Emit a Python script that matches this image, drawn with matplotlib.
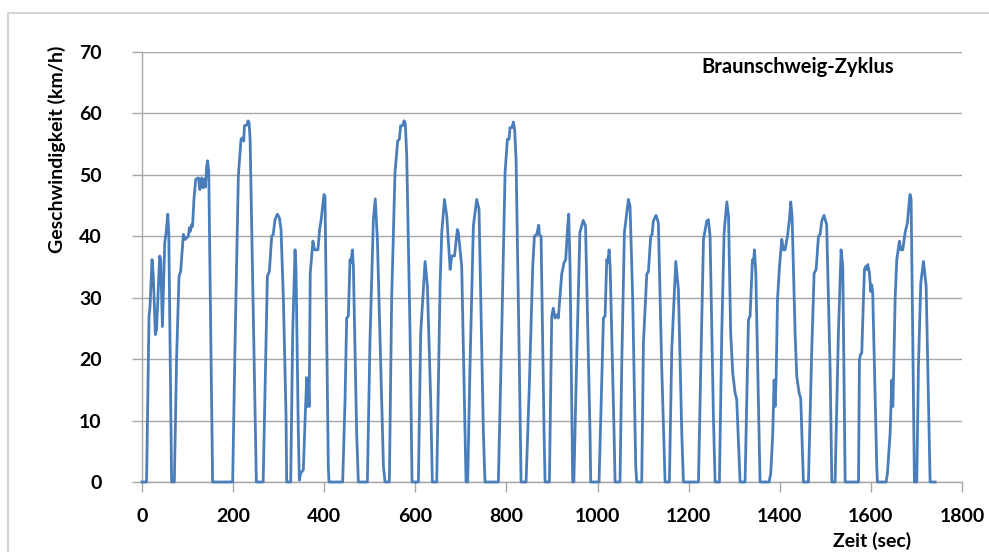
import matplotlib
matplotlib.use("Agg")
import matplotlib.pyplot as plt
from matplotlib.patches import Rectangle

# ---- data ----
time_s = [
    0, 10, 15.4, 17.6, 22, 24.9, 29.3, 32, 38.8, 41, 44.8, 49.9, 52.9, 56.6, 58.8, 65,
    71, 76, 81.3, 84.9, 90.8, 94.5, 101.7, 104, 106, 109, 111, 114, 118, 124, 127, 129, 131, 134, 136, 139, 142, 144, 146.5, 155,
    199, 204, 211.5, 217.4, 220.4, 223.3, 224.8, 229.9, 232.8, 235, 237.3, 251,
    266, 271.5, 275.2, 279.6, 284.7, 288, 292, 297.2, 301.6, 305.2, 310.4, 316.2, 317.6,
    326.4, 330.8, 335.9, 338, 343.2, 345.4, 348.3, 354.2, 357.9, 361.5, 363, 365, 367, 369.3, 375.2, 378.8, 386.2, 389.8, 393, 399.5, 401.7, 409, 410.5,
    440.5, 445.7, 449.3, 453, 456.6, 458.5, 461.8, 464, 471.2, 474.9,
    494.7, 500.5, 507.9, 512, 516.7, 526.2, 530, 533.5,
    543, 548, 555.4, 561.2, 564.9, 567.8, 572, 575.2, 578, 581.1, 588.4, 592.8,
    606.7, 611.8, 621.4, 626.5, 633.7, 637.3,
    646.9, 654.4, 658, 663.9, 669, 676.4, 680, 686, 692.2, 694.5, 701.8, 709.2, 711.3,
    714.9, 720, 727.4, 734.7, 739.8, 749.4, 752.9,
    782.3, 789.6, 797, 802.1, 805.7, 807.9, 812.3, 815.2, 818, 821.1, 828.4, 832.1,
    843.1, 850.4, 857.7, 861.4, 866.5, 870.9, 872.3, 876, 882.6, 884.8,
    894.3, 899.4, 902.9, 906.6, 910.3, 913.9, 917.6, 921.2, 926.4, 930.1, 934.5, 936.7, 939.6, 945.4,
    948, 953.8, 961.2, 968.5, 973.6, 983.5, 985,
    1003.3, 1009.2, 1012.9, 1016.5, 1020.2, 1022.4, 1025.4, 1027.6, 1036.3, 1038.4,
    1049.3, 1053, 1058.9, 1067.7, 1071.3, 1077.2, 1083.8, 1086,
    1097, 1100.7, 1108, 1111.7, 1116.7, 1119.6, 1122.5, 1128.4, 1133.5, 1140.8, 1148.2,
    1157.7, 1162.9, 1171.7, 1177.5, 1184.9, 1188.5,
    1221.5, 1226.6, 1232.5, 1239.8, 1243.3, 1247, 1254.3, 1258,
    1267.5, 1272.7, 1277.8, 1283.8, 1287.5, 1292.2, 1296.8, 1301.9, 1305.5, 1312.9,
    1323.8, 1331.2, 1334.8, 1340, 1342.2, 1344.4, 1347.4, 1356.7,
    1376.5, 1380.2, 1384.6, 1387.5, 1389.7, 1391.9, 1395, 1399.4, 1404.4, 1408, 1411.7, 1416.8, 1421.2, 1424.1, 1427, 1433.6, 1437.3, 1442.4, 1446, 1451.9,
    1462.9, 1470.2, 1475.4, 1479.8, 1484.9, 1488.5, 1492.2, 1497, 1502.9, 1510.4, 1514.2,
    1521.4, 1528.7, 1534.6, 1538.3, 1543.5,
    1572.8, 1574.9, 1577, 1580, 1583.6, 1585.9, 1588.8, 1591, 1593.2, 1596.8, 1599.6, 1601.8, 1604, 1612.9, 1614.3,
    1633.4, 1636.3, 1642.2, 1645.9, 1648.1, 1649.6, 1653.2, 1656.8, 1662.6, 1665.6, 1670, 1675.1, 1680.2, 1684.6, 1686, 1688.3, 1695.6,
    1700.7, 1704.4, 1709.5, 1715.4, 1721.3, 1730, 1741,
]
speed_kmh = [
    0, 0, 27, 28.6, 36.2, 33.5, 24, 24.8, 36.8, 36.2, 25.3, 38.9, 40.6, 43.6, 40.6, 0,
    0, 20.4, 33.5, 34.3, 40.3, 39.5, 40, 41.4, 40.8, 41.9, 41.6, 46, 49.3, 49.5, 47.6, 49, 49.5, 47.9, 49.3, 48, 51.4, 52.3, 50.6, 0,
    0, 21.5, 49.8, 55.8, 56, 55.5, 58, 58.1, 58.8, 58.5, 55.8, 0,
    0, 20.4, 33.5, 34.3, 40, 40.3, 42.7, 43.6, 43, 41.1, 29.7, 10.7, 0,
    0, 24.3, 37.8, 35.1, 7.9, 0.3, 1.4, 2, 10, 17, 12.3, 16.6, 12.3, 34, 39.2, 37.8, 37.8, 41.1, 42.5, 46.8, 46.5, 2.5, 0,
    0, 13.4, 26.7, 27, 36.2, 35.7, 37.8, 35.1, 7.9, 0,
    0, 23.2, 42.7, 46.1, 39.5, 13.4, 2.5, 0,
    0, 29.7, 50.4, 55.5, 55.8, 58, 58, 58.8, 58.3, 53.1, 24.3, 0,
    0, 24.3, 35.9, 31.9, 13.4, 0,
    0, 32.4, 40.6, 46, 43.3, 34.6, 36.8, 36.8, 41.1, 40.6, 35.1, 7.9, 0,
    0, 18.8, 41.7, 46, 44.4, 7.9, 0,
    0, 24.3, 50.4, 55.8, 55.8, 57.7, 57.7, 58.6, 57.4, 52.5, 18.8, 0,
    0, 16.1, 35.1, 40, 40.3, 41.8, 40.3, 40, 7.9, 0,
    0, 27, 28.3, 26.7, 27.2, 26.7, 30.2, 33.8, 35.7, 36.2, 41.7, 43.6, 35.1, 0,
    0, 18.8, 40.6, 42.6, 41.7, 7.9, 0,
    0, 16.1, 26.7, 27, 36.2, 35.7, 37.8, 35.1, 7.9, 0,
    0, 18.8, 40.6, 46, 44.9, 29.7, 2.5, 0,
    0, 22.6, 33.8, 34.3, 40, 40.3, 42.5, 43.4, 42.2, 18.8, 0,
    0, 21.5, 35.9, 31.3, 7.9, 0,
    0, 18.8, 39.5, 42.5, 42.7, 40, 10.7, 0,
    0, 24.3, 40.6, 45.6, 43.3, 24.3, 17.7, 14.5, 13.4, 0,
    0, 26.4, 27, 36.2, 35.7, 37.8, 34, 0,
    0, 1.4, 7.9, 16.6, 12.3, 16.6, 29.7, 35.1, 39.5, 37.8, 37.8, 40, 42.7, 45.6, 43.3, 24.3, 17.2, 14.5, 13.6, 0,
    0, 21.5, 34, 34.6, 40, 40.3, 42.5, 43.4, 41.9, 18.8, 0,
    0, 24.3, 37.8, 35.1, 0,
    0, 19.9, 20.7, 21, 29.7, 34.6, 35.1, 34.6, 35.4, 34, 31, 32.1, 30.8, 2.5, 0,
    0, 1.4, 7.9, 16.6, 12.3, 16.6, 29.7, 36.2, 39.2, 37.8, 37.8, 40.6, 42.2, 46, 46.8, 46, 0,
    0, 18.8, 32.4, 35.9, 31.9, 0, 0,
]
assert len(time_s) == len(speed_kmh)

x_ticks = [0, 200, 400, 600, 800, 1000, 1200, 1400, 1600, 1800]
y_ticks = [0, 10, 20, 30, 40, 50, 60, 70]

title_text = "Braunschweig-Zyklus"
x_label = "Zeit (sec)"
y_label = "Geschwindigkeit (km/h)"

# ---- figure ----
W, H = 989, 552
fig = plt.figure(figsize=(W / 100, H / 100), dpi=100)
plt.rcParams['font.family'] = ['Lato', 'DejaVu Sans']

# outer chart border (light gray)
fig.patches.append(Rectangle((8 / W, -0.1), 1.2, 1.1 - 13 / H, transform=fig.transFigure,
                             fill=False, edgecolor='#d4d4d4', linewidth=1.5, zorder=0))

ax = fig.add_axes([142 / W, 1 - 482 / H, (962 - 142) / W, (482 - 52) / H])
gray = '#a6a6a6'
ax.set_xlim(0, 1800)
ax.set_ylim(0, 70)
ax.set_xticks(x_ticks)
ax.set_yticks(y_ticks)
ax.grid(axis='y', color=gray, linewidth=1.0)
ax.set_axisbelow(True)
for s in ['top', 'right']:
    ax.spines[s].set_visible(False)
for s in ['left', 'bottom']:
    ax.spines[s].set_color(gray)
    ax.spines[s].set_linewidth(1.0)
ax.tick_params(axis='both', direction='out', length=7, width=1.0, color=gray,
               labelsize=14, labelcolor='black')
ax.tick_params(axis='y', pad=22)
ax.tick_params(axis='x', pad=12)
for lab in ax.get_xticklabels() + ax.get_yticklabels():
    lab.set_fontweight('bold')

ax.plot(time_s, speed_kmh, color='#4a7ebb', linewidth=2.0, clip_on=False, zorder=3)

ax.text(701 / W, 1 - 67 / H, title_text, transform=fig.transFigure, fontsize=14.5,
        fontweight='bold', ha='left', va='center')
fig.text(872 / W, 1 - 541 / H, x_label, fontsize=14, fontweight='bold',
         ha='center', va='center')
fig.text(57 / W, 1 - 46 / H, y_label, fontsize=14, fontweight='bold',
         ha='center', va='top', rotation=90)

fig.savefig("out.png", dpi=100)
